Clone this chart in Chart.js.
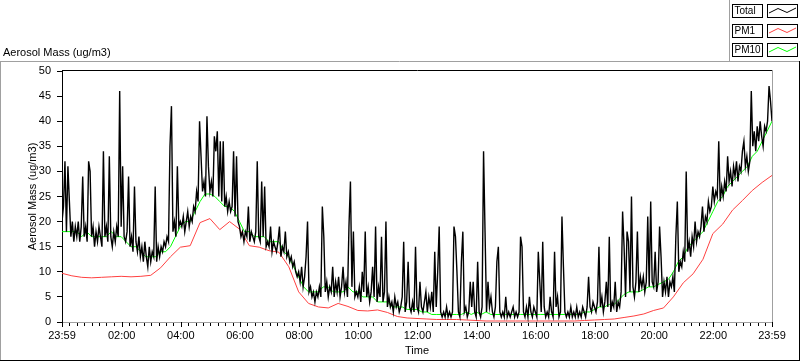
<!DOCTYPE html>
<html>
<head>
<meta charset="utf-8">
<script src="https://cdn.jsdelivr.net/npm/chart.js@4.4.1/dist/chart.umd.min.js"></script>
<style>
  html, body { margin: 0; padding: 0; background: #fff; }
  canvas { display: block; }
</style>
</head>
<body>
<canvas id="grafico" width="800" height="361"></canvas>
<script>
// datos (minutos desde las 23:59)
const seriesNames = ['Total', 'PM1', 'PM10'];

const totalStep = 3;
const totalValues = [
  20,23,32,18,31,24,17,20,16,19, 17,20,16,19,29,17,19,16,32,30, 17,19,15,18,16,19,17,15,34,17, 19,16,33,17,15,18,16,19,17,46,
  19,31,17,16,18,29,15,17,14,27, 16,14,17,13,15,12,16,13,11,15, 12,14,13,27,12,15,13,15,14,16, 15,17,16,35,43,18,20,17,31,19,
  20,19,21,18,20,22,19,21,20,23, 22,26,24,40,33,26,28,25,41,31, 26,28,25,37,34,38,25,36,24,36, 23,25,22,24,22,23,34,21,33,20,
  19,17,18,16,18,17,23,16,18,17, 16,18,32,17,16,28,17,27,15,16, 15,19,14,16,15,14,16,19,13,15, 14,18,13,14,12,13,11,12,10,9,
  10,8,11,7,9,13,20,6,7,5, 6,4,6,5,7,5,23,17,6,8, 5,7,6,11,5,8,6,9,5,7, 11,6,8,5,19,28,7,18,5,6,
  5,7,4,10,6,18,5,7,4,6, 11,5,19,4,7,5,17,4,6,20, 3,5,3,4,2,5,3,4,2,3, 5,16,2,4,12,3,2,4,2,15,
  3,2,8,3,2,4,6,2,5,3, 6,2,14,3,10,19,2,1,2,1, 3,1,2,1,2,19,17,10,2,1, 12,18,2,3,1,2,8,3,8,2,
  1,12,2,1,3,34,18,2,8,3, 5,2,1,3,12,15,2,1,2,1, 5,1,2,1,2,3,1,2,1,2, 17,15,2,1,3,1,5,2,1,3,
  2,1,14,8,2,16,3,1,2,1, 5,2,1,14,3,5,1,2,21,11, 2,1,2,1,3,1,2,1,3,1, 2,1,3,2,1,3,9,3,2,4,
  3,2,4,15,3,5,2,4,8,3, 17,2,4,3,8,2,4,3,6,22, 15,5,18,16,6,25,7,5,8,18, 6,9,7,9,6,8,21,7,24,8,
  7,14,6,8,19,13,5,8,6,9, 5,8,7,9,6,17,24,10,12,11, 14,12,30,14,16,13,17,15,20,16, 18,17,19,23,18,21,20,24,22,23,
  27,24,26,25,36,24,27,25,28,26, 33,28,30,27,31,29,32,28,31,30, 34,36,31,33,30,32,46,35,38,34, 39,36,40,37,35,39,38,40,47,44,
  40
];

const pm10Step = 10;
const pm10Values = [
  18,18,18,18,17,18,17,17,17,17,18,17,17,
  16,15,15,14,13,13,13,14,14,15,17,19,
  20,20,22,24,25.5,25.5,25,24,23,23,22,20,
  18,18,17,17,17,16,16,16,14,13,11,9,
  7,6,6,6,7,7,6,6,6,7,6,6,
  5,5,5,4,4,4,3,3,3,2.5,2.5,2.5,
  2,2,1.5,1.5,1.5,1.5,1.5,1.5,1.5,2,1.5,2,
  1.5,2,1.5,1.5,1.5,1.5,1.5,1.5,1.5,1.5,1.5,1.5,
  1.5,1.5,1.5,1.5,1.5,1.5,1.5,1.5,1.5,2,2,2.5,
  3,3,3.5,3.5,4.5,5.5,6,6,6,6.5,7,7,
  7.5,8,8.5,10,12,13,15,16,17,18,20,22,
  24,25,27,28,29,30,31,33,34,36,38,40
];

const pm1Step = 20;
const pm1Values = [
  9.7,9.2,8.9,8.8,8.9,9.0,9.1,9.0,9.1,9.3,10.8,13,14.9,
  15.2,19.8,20.6,18.4,20,18.5,15.2,14.9,14.2,13.9,11,6,
  3.7,3.0,2.8,3.7,3.1,2.3,2.2,2.4,1.9,1.1,0.8,0.7,
  0.6,0.5,0.5,0.5,0.4,0.3,0.2,0.2,0.2,0.2,0.2,0.2,
  0.2,0.2,0.2,0.2,0.3,0.4,0.5,0.6,0.9,1.2,1.6,2.3,
  2.8,5,7.8,9.6,12.5,17.6,19.5,22.3,24.2,26.2,27.8,29.2
];

const xTickMinutes = [0, 121, 241, 361, 481, 601, 721, 841, 961, 1081, 1201, 1321, 1440];
const xTickLabels = ['23:59', '02:00', '04:00', '06:00', '08:00', '10:00', '12:00',
  '14:00', '16:00', '18:00', '20:00', '22:00', '23:59'];
const yMin = 0;
const yMax = 50;
const yStep = 5;

const titulo = 'Aerosol Mass (ug/m3)';
const tituloX = 'Time';

const familia = '"Liberation Sans", Arial, sans-serif';
Chart.defaults.font.family = familia;
Chart.defaults.font.size = 11;
Chart.defaults.color = '#000';

const aPuntos = (valores, paso) => valores.map((v, i) => ({ x: i * paso, y: v }));

function linea(ctx, x1, y1, x2, y2, color) {
  ctx.strokeStyle = color;
  ctx.beginPath();
  ctx.moveTo(x1, y1);
  ctx.lineTo(x2, y2);
  ctx.stroke();
}

// marco estilo LabVIEW, marcas del eje x y leyenda
const marco = {
  id: 'marco',
  afterDraw(chart) {
    const { ctx, chartArea: a, scales: { x } } = chart;
    ctx.save();
    ctx.lineWidth = 1;

    ctx.fillStyle = '#000';
    ctx.font = '11px ' + familia;
    ctx.textBaseline = 'middle';
    ctx.textAlign = 'left';
    ctx.fillText(titulo, 3, 52.5);

    linea(ctx, 0, 61.5, 799, 61.5, '#a0a0a0');
    linea(ctx, 0.5, 61, 0.5, 361, '#a0a0a0');
    linea(ctx, 729.5, 0, 729.5, 61, '#a0a0a0');
    linea(ctx, 0, 360.5, 800, 360.5, '#000');
    linea(ctx, 799.5, 61, 799.5, 361, '#000');

    linea(ctx, a.left, a.top - 0.5, a.right + 1, a.top - 0.5, '#000');
    linea(ctx, a.right + 0.5, a.top - 1, a.right + 0.5, a.bottom + 1, '#a0a0a0');

    for (let k = 0; k < xTickMinutes.length; k++) {
      const px = Math.round(x.getPixelForValue(xTickMinutes[k])) + 0.5;
      linea(ctx, px, a.bottom, px, a.bottom + 5, '#000');
      if (k < xTickMinutes.length - 1) {
        for (let t = xTickMinutes[k] + 15; t < xTickMinutes[k + 1] - 5; t += 15) {
          const pm = Math.round(x.getPixelForValue(t)) + 0.5;
          linea(ctx, pm, a.bottom + 1, pm, a.bottom + 4, '#000');
        }
      }
    }

    ctx.font = '10px ' + familia;
    seriesNames.forEach((nombre, n) => {
      const ds = chart.data.datasets.find(d => d.label === nombre);
      const top = Math.round(4 + n * 19.5) + 0.5;
      ctx.strokeStyle = '#000';
      ctx.strokeRect(732.5, top, 30, 13);
      ctx.strokeRect(767.5, top, 30, 13);
      ctx.fillStyle = '#000';
      ctx.fillText(nombre, 734.5, top + 7);
      ctx.strokeStyle = ds.borderColor;
      ctx.lineWidth = 1;
      ctx.beginPath();
      ctx.moveTo(769, top + 8.5);
      ctx.lineTo(778, top + 4);
      ctx.lineTo(787, top + 8);
      ctx.lineTo(796, top + 3.5);
      ctx.stroke();
    });
    ctx.restore();
  }
};

const ctx = document.getElementById('grafico');

new Chart(ctx, {
  type: 'line',
  data: {
    datasets: [
      {
        label: 'Total',
        data: aPuntos(totalValues, totalStep),
        borderColor: '#000000',
        borderWidth: 1.4,
        order: 0,
      },
      {
        label: 'PM1',
        data: aPuntos(pm1Values, pm1Step),
        borderColor: '#ff4040',
        borderWidth: 1,
        order: 2,
      },
      {
        label: 'PM10',
        data: aPuntos(pm10Values, pm10Step),
        borderColor: '#00ff00',
        borderWidth: 1,
        order: 1,
      },
    ],
  },
  options: {
    responsive: false,
    devicePixelRatio: 1,
    animation: false,
    elements: {
      point: { radius: 0 },
      line: { tension: 0 },
    },
    layout: {
      padding: { left: 0, top: 71, right: 28, bottom: 0 },
    },
    plugins: {
      legend: { display: false },
      tooltip: { enabled: false },
    },
    scales: {
      x: {
        type: 'linear',
        min: 0,
        max: 1440,
        afterBuildTicks: (scale) => {
          scale.ticks = xTickMinutes.map(v => ({ value: v }));
        },
        afterFit: (scale) => {
          scale.height = 39;
        },
        ticks: {
          autoSkip: false,
          maxRotation: 0,
          padding: 7,
          callback: (v) => xTickLabels[xTickMinutes.indexOf(v)],
        },
        grid: { display: false, drawTicks: false },
        border: { display: true, color: '#a0a0a0' },
        title: {
          display: true,
          text: tituloX,
          padding: { top: 0, bottom: 3 },
        },
      },
      y: {
        min: yMin,
        max: yMax,
        afterFit: (scale) => {
          scale.width = 62;
        },
        ticks: {
          stepSize: yStep,
          padding: 6,
        },
        grid: {
          drawOnChartArea: false,
          drawTicks: true,
          tickLength: 5,
          tickColor: '#000',
        },
        border: { display: true, color: '#000' },
        title: {
          display: true,
          text: titulo,
          padding: { top: 26, bottom: 0 },
        },
      },
    },
  },
  plugins: [marco],
});
</script>
</body>
</html>
